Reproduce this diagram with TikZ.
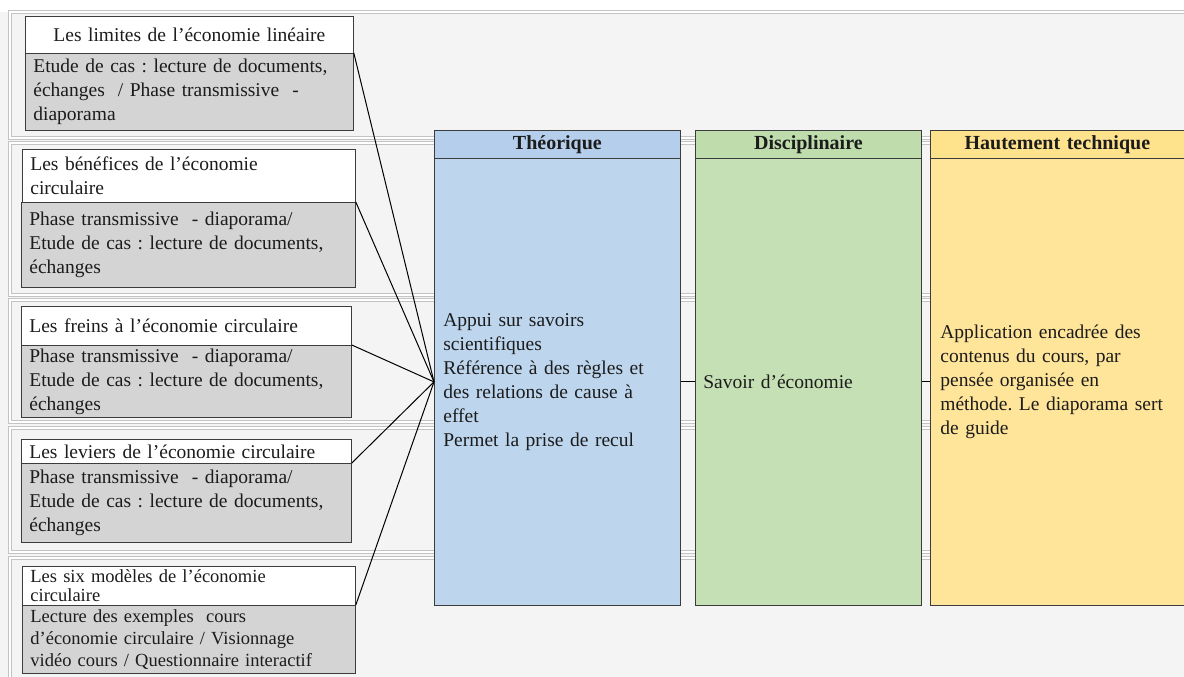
\documentclass[tikz,border=0pt]{standalone}
\usepackage{fontspec}
\setmainfont{Liberation Serif}
\frenchspacing
\definecolor{txt}{RGB}{28,28,28}
\definecolor{bord}{RGB}{60,60,60}
\definecolor{grayf}{RGB}{212,212,212}
\definecolor{bgc}{RGB}{244,244,244}
\definecolor{rowc}{RGB}{195,195,195}
\definecolor{blueb}{RGB}{189,214,238}
\definecolor{blueh}{RGB}{180,206,236}
\definecolor{greenb}{RGB}{197,224,180}
\definecolor{greenh}{RGB}{190,220,172}
\definecolor{yellb}{RGB}{255,229,153}
\definecolor{yellh}{RGB}{255,226,140}
\begin{document}
\begin{tikzpicture}[x=1pt,y=-1pt,
  every node/.style={font=\fontsize{19.5}{24}\selectfont\frenchspacing, text=txt, inner ysep=0pt},
  wbox/.style={draw=bord, line width=0.8pt, fill=white, anchor=north west, align=left, inner xsep=8pt},
  gbox/.style={draw=bord, line width=0.8pt, fill=grayf, anchor=north west, align=left, inner xsep=8pt},
  rowbox/.style={draw=rowc, line width=0.6pt, double=white, double distance=2pt},
  head/.style={draw=bord, line width=0.8pt, anchor=north west, align=center, font=\fontsize{20}{24}\selectfont\bfseries, minimum height=28pt},
  body/.style={draw=bord, line width=0.8pt, anchor=north west, align=left, minimum height=447pt},
  conn/.style={draw=black, line width=1pt}
]
\useasboundingbox (0,0) rectangle (1184,677);
\fill[white] (0,0) rectangle (1184,677);
\fill[bgc] (0,12) rectangle (1184,677);
% table rows
\draw[rowbox] (10,12) rectangle (1200,138);
\draw[rowbox] (10,143) rectangle (1200,295);
\draw[rowbox] (10,300) rectangle (1200,422);
\draw[rowbox] (10,428) rectangle (1200,552);
\draw[rowbox] (10,558) rectangle (1200,700);
% left boxes
\node[wbox, align=center, minimum width=328pt, text width=312pt, minimum height=37pt] (w1) at (25,16) {Les limites de l'économie linéaire};
\node[gbox, minimum width=328pt, text width=312pt, minimum height=77pt] (g1) at (25,53) {Etude de cas : lecture de documents,\\ échanges \ / Phase transmissive \ -\\ diaporama};
\node[wbox, minimum width=333pt, text width=317pt, minimum height=53pt] (w2) at (22,149) {Les bénéfices de l'économie\\ circulaire};
\node[gbox, minimum width=334pt, text width=318pt, minimum height=85pt] (g2) at (21,202) {Phase transmissive \ - diaporama/\\ Etude de cas : lecture de documents,\\ échanges};
\node[wbox, minimum width=330pt, text width=314pt, minimum height=39pt] (w3) at (21,306) {Les freins à l'économie circulaire};
\node[gbox, minimum width=330pt, text width=314pt, minimum height=72pt] (g3) at (21,345) {Phase transmissive \ - diaporama/\\ Etude de cas : lecture de documents,\\ échanges};
\node[wbox, minimum width=330pt, text width=314pt, minimum height=24pt] (w4) at (21,439) {Les leviers de l'économie circulaire};
\node[gbox, minimum width=330pt, text width=314pt, minimum height=79pt] (g4) at (21,463) {Phase transmissive \ - diaporama/\\ Etude de cas : lecture de documents,\\ échanges};
\node[wbox, minimum width=333pt, text width=317pt, minimum height=39pt, font=\fontsize{18.5}{19}\selectfont] (w5) at (22,566) {Les six modèles de l'économie\\ circulaire};
\node[gbox, minimum width=333pt, text width=317pt, minimum height=68pt, font=\fontsize{18.5}{22}\selectfont] (g5) at (22,605) {Lecture des exemples \ cours\\ d'économie circulaire / Visionnage\\ vidéo cours / Questionnaire interactif};
% right columns
\node[head, fill=blueh, minimum width=246pt, text width=230pt] (th) at (434,130) {Théorique};
\node[body, fill=blueb, minimum width=246pt, text width=228pt, inner xsep=9pt] (tb) at (434,158) {Appui sur savoirs\\ scientifiques\\ Référence à des règles et\\ des relations de cause à\\ effet\\ Permet la prise de recul};
\node[head, fill=greenh, minimum width=226pt, text width=210pt] (dh) at (695,130) {Disciplinaire};
\node[body, fill=greenb, minimum width=226pt, text width=210pt, inner xsep=8pt] (db) at (695,158) {Savoir d'économie};
\node[head, fill=yellh, minimum width=262pt, text width=246pt] (hh) at (930,130) {Hautement technique\hspace*{8pt}};
\node[body, fill=yellb, minimum width=262pt, text width=242pt, inner xsep=10pt] (hb) at (930,158) {Application encadrée des\\ contenus du cours, par\\ pensée organisée en\\ méthode. Le diaporama sert\\ de guide};
% connectors
\foreach \g in {g1,g2,g3,g4,g5} \draw[conn] (\g.north east) -- (tb.west);
\draw[conn] (tb.east) -- (db.west);
\draw[conn] (db.east) -- (hb.west);
\end{tikzpicture}
\end{document}
